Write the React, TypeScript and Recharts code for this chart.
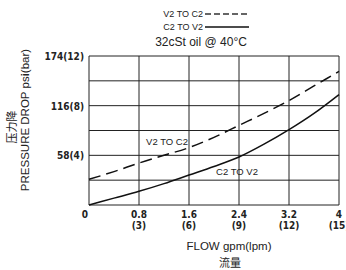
import { CartesianGrid, Line, LineChart, XAxis, YAxis } from 'recharts'

const flowGpm = [0, 0.4, 0.8, 1.2, 1.6, 2.0, 2.4, 2.8, 3.2, 3.6, 4.0]
const v2ToC2 = [30, 39, 49, 58, 67, 79, 93, 107, 122, 139, 156]
const c2ToV2 = [0, 8, 16, 25, 35, 45, 56, 71, 88, 107, 129]

const xTicks = [0, 0.8, 1.6, 2.4, 3.2, 4]
const xTickLpm = ['', '(3)', '(6)', '(9)', '(12)', '(15)']
const yTicks = [0, 29, 58, 87, 116, 145, 174]
const yTickLabels: Record<number, string> = {
  58: '58(4)',
  116: '116(8)',
  174: '174(12)',
}

const data = flowGpm.map((flow, i) => ({
  flow,
  v2ToC2: v2ToC2[i],
  c2ToV2: c2ToV2[i],
}))

const tickFont = '"DejaVu Sans Condensed", "DejaVu Sans", sans-serif'
const textFont = '"Liberation Sans", Arial, sans-serif'

function XTick({ x, y, payload, index }: any) {
  const v = payload.value
  return (
    <g fontFamily={tickFont} fontWeight="bold" fontSize={10} fill="#222">
      <text x={v === 0 ? x - 4 : x} y={y + 11} textAnchor="middle">
        {v === 0 ? '0' : String(v)}
      </text>
      <text x={x} y={y + 22} textAnchor="middle">
        {xTickLpm[index]}
      </text>
    </g>
  )
}

function YTick({ x, y, payload }: any) {
  const label = yTickLabels[payload.value]
  if (!label) return <g />
  return (
    <text
      x={x - 3}
      y={y + 4}
      textAnchor="end"
      fontFamily={tickFont}
      fontWeight="bold"
      fontSize={10}
      fill="#222"
    >
      {label}
    </text>
  )
}

export default function App() {
  return (
    <div style={{ position: 'absolute', left: 0, top: 0, width: 346, height: 270 }}>
      <LineChart
        width={346}
        height={270}
        data={data}
        margin={{ top: 56, right: 7, bottom: 0, left: 0 }}
      >
        <CartesianGrid stroke="#222" strokeWidth={1} />
        <XAxis
          dataKey="flow"
          type="number"
          domain={[0, 4]}
          ticks={xTicks}
          height={65}
          axisLine={false}
          tickLine={false}
          tickSize={0}
          tick={(props: any) => <XTick {...props} />}
          interval={0}
        />
        <YAxis
          type="number"
          domain={[0, 174]}
          ticks={yTicks}
          width={89}
          axisLine={false}
          tickLine={false}
          tickSize={0}
          tick={(props: any) => <YTick {...props} />}
          interval={0}
        />
        <Line
          type="monotone"
          dataKey="v2ToC2"
          stroke="#111"
          strokeWidth={1.5}
          strokeDasharray="12 6"
          dot={false}
          isAnimationActive={false}
        />
        <Line
          type="monotone"
          dataKey="c2ToV2"
          stroke="#111"
          strokeWidth={1.5}
          dot={false}
          isAnimationActive={false}
        />
      </LineChart>
      <svg
        width={346}
        height={270}
        style={{ position: 'absolute', left: 0, top: 0, pointerEvents: 'none' }}
        fontFamily={textFont}
        fill="#222"
      >
        <text x={203} y={17} fontSize={9} textAnchor="end">V2 TO C2</text>
        <line x1={205} y1={14} x2={249} y2={14} stroke="#333" strokeWidth={1.5} strokeDasharray="6 3" />
        <text x={203} y={30} fontSize={9} textAnchor="end">C2 TO V2</text>
        <line x1={205} y1={27} x2={249} y2={27} stroke="#111" strokeWidth={1.5} />
        <text x={201} y={46} fontSize={12} textAnchor="middle">32cSt oil @ 40°C</text>

        <text x={167} y={145} fontSize={9.5} textAnchor="middle">V2 TO C2</text>
        <text x={237} y={175} fontSize={9.5} textAnchor="middle">C2 TO V2</text>

        <text x={229} y={250} fontSize={11.5} textAnchor="middle">FLOW gpm(lpm)</text>
        <text x={230} y={267} fontSize={11} textAnchor="middle" fontFamily='"Noto Sans CJK SC", sans-serif'>流量</text>

        <text
          x={0}
          y={0}
          fontSize={11}
          textAnchor="middle"
          fontFamily='"Noto Sans CJK SC", sans-serif'
          transform="translate(16 127) rotate(-90)"
        >
          压力降
        </text>
        <text
          x={0}
          y={0}
          fontSize={11.5}
          textAnchor="middle"
          transform="translate(29 120) rotate(-90)"
        >
          PRESSURE DROP ps<tspan fontWeight="bold">i</tspan>(bar)
        </text>
      </svg>
    </div>
  )
}
